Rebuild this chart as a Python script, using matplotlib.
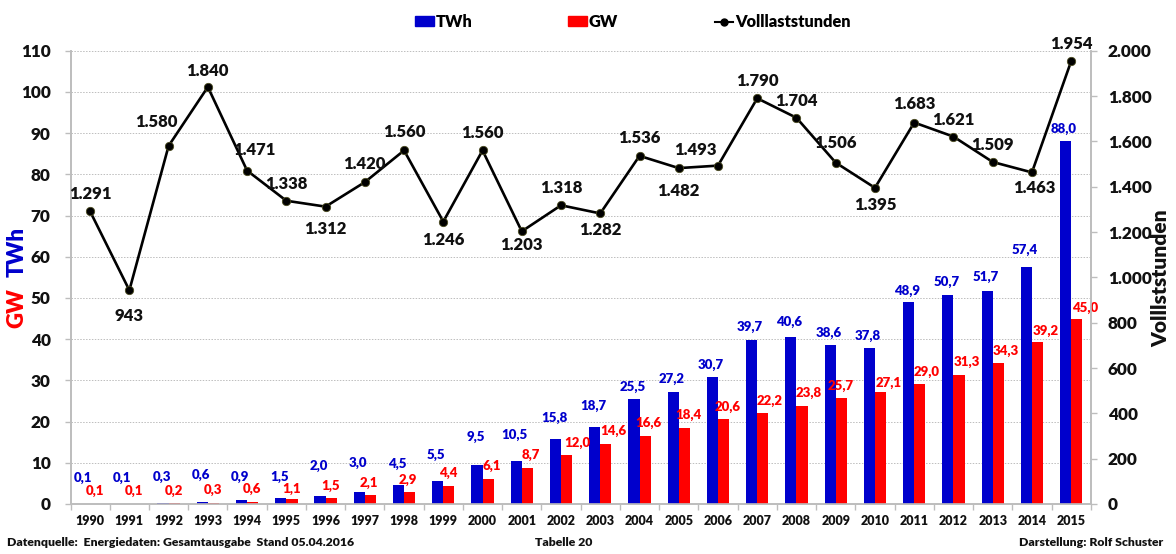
import matplotlib
matplotlib.use("Agg")
import matplotlib.pyplot as plt
import numpy as np
from matplotlib.patches import Patch
from matplotlib.lines import Line2D

plt.rcParams['font.family'] = ['Lato', 'DejaVu Sans']
plt.rcParams['font.weight'] = 800

years = list(range(1990, 2016))
twh = [0.1, 0.1, 0.3, 0.6, 0.9, 1.5, 2.0, 3.0, 4.5, 5.5, 9.5, 10.5, 15.8, 18.7, 25.5, 27.2,
       30.7, 39.7, 40.6, 38.6, 37.8, 48.9, 50.7, 51.7, 57.4, 88.0]
gw = [0.1, 0.1, 0.2, 0.3, 0.6, 1.1, 1.5, 2.1, 2.9, 4.4, 6.1, 8.7, 12.0, 14.6, 16.6, 18.4,
      20.6, 22.2, 23.8, 25.7, 27.1, 29.0, 31.3, 34.3, 39.2, 45.0]
hours = [1291, 943, 1580, 1840, 1471, 1338, 1312, 1420, 1560, 1246, 1560, 1203, 1318, 1282,
         1536, 1482, 1493, 1790, 1704, 1506, 1395, 1683, 1621, 1509, 1463, 1954]

# label offsets in pixels relative to the mark
twh_dy = [26, 26, 26, 27, 23, 21, 30, 29, 22, 26, 28, 26, 21, 21, 12, 13, 13, 13, 15, 12, 12, 12, 13, 14, 18, 12]
gw_dx = [5, 5, 5, 5, 5, 5, 5, 4, 4, 5, 9, 9, 16, 13, 9, 10, 10, 12, 12, 5, 14, 12, 13, 13, 14, 14]
gw_dy = [13, 13, 12, 13, 13, 11, 12, 12, 12, 13, 13, 13, 12, 13, 13, 13, 12, 12, 13, 12, 9, 13, 13, 12, 12, 11]
h_dx = [0, 0, -12, 0, 7, 0, 0, 0, 0, 0, 0, 0, 0, 0, 0, 0, -23, 0, 0, 0, 0, 0, 0, 0, 2, 0]
h_dy = [17, -26, 24, 16, 21, 17, -22, 18, 18, -18, 17, -14, 17, -17, 18, -23, 16, 17, 17, 20, -17, 19, 17, 17, -16, 17]

BLUE = '#0000CC'
RED = '#FF0000'
GRID = '#BDBDBD'
W, H = 1176, 554

fig = plt.figure(figsize=(W / 100, H / 100), dpi=100, facecolor='white')
L, R, T, B = 70.5, 1090.8, 50.7, 504
ax = fig.add_axes([L / W, 1 - B / H, (R - L) / W, (B - T) / H])
ax2 = ax.twinx()

x = np.arange(len(years))
bw = 0.285
ax.bar(x - bw / 2, twh, bw, color=BLUE, zorder=3)
ax.bar(x + bw / 2, gw, bw, color=RED, zorder=3)
ax.set_xlim(-0.5, len(years) - 0.5)
ax.set_ylim(0, 110)
ax.set_yticks(range(0, 111, 10))
ax.set_xticks(np.arange(-0.5, len(years), 1))
ax.set_xticklabels([])
ax.set_xticks(x, minor=True)
ax.set_xticklabels(years, minor=True, fontsize=9, color='#111111')
ax.tick_params(axis='x', which='major', length=4, color=GRID, width=1)
ax.tick_params(axis='x', which='minor', length=0, pad=8)
ax.tick_params(axis='y', length=4.3, color=GRID, width=1, labelsize=12.3, labelcolor='#111111', pad=10)
ax.grid(axis='y', color=GRID, linestyle=(0, (1.5, 1.5)), linewidth=0.7, zorder=0)
ax.set_axisbelow(True)

ax2.set_ylim(0, 2000)
ax2.plot(x, hours, color='black', lw=1.9, marker='o', ms=6, mfc='black', mec='#4a4a20', mew=0.6, zorder=5)
ax2.set_yticks(range(0, 2001, 200))
ax2.set_yticklabels([f"{v:,}".replace(',', '.') for v in range(0, 2001, 200)])
ax2.tick_params(axis='y', length=4.3, color=GRID, width=1, labelsize=12.3, labelcolor='#111111', pad=8)

for a in (ax, ax2):
    a.spines['top'].set_visible(False)
    for s in ('left', 'right', 'bottom'):
        a.spines[s].set_color(GRID)
        a.spines[s].set_linewidth(1.2)

for i in x:
    ax.annotate(f"{twh[i]:.1f}".replace('.', ','), (i - bw / 2, twh[i]), xytext=(-1.5, twh_dy[i]),
                textcoords='offset pixels', ha='center', va='center', color=BLUE, fontsize=9.5, zorder=6)
    ax.annotate(f"{gw[i]:.1f}".replace('.', ','), (i, gw[i]), xytext=(gw_dx[i], gw_dy[i]),
                textcoords='offset pixels', ha='center', va='center', color=RED, fontsize=9.5, zorder=6)
    lab = f"{hours[i]:,}".replace(',', '.')
    ax2.annotate(lab, (i, hours[i]), xytext=(h_dx[i], h_dy[i]),
                 textcoords='offset pixels', ha='center', va='center', color='#111111', fontsize=12, zorder=7)

fig.text(17 / W, 1 - 308 / H, 'GW', color=RED, rotation=90, ha='center', va='center', fontsize=16)
fig.text(17 / W, 1 - 252 / H, 'TWh', color=BLUE, rotation=90, ha='center', va='center', fontsize=16)
fig.text(1161 / W, 1 - 278 / H, 'Volllststunden', color='#111111', rotation=90, ha='center', va='center', fontsize=15)

fig.text(7 / W, 1 - 542 / H, 'Datenquelle:  Energiedaten: Gesamtausgabe  Stand 05.04.2016', fontsize=8.8,
         ha='left', va='center', color='#111111')
fig.text(564 / W, 1 - 542 / H, 'Tabelle 20', fontsize=8.8, ha='center', va='center', color='#111111')
fig.text(1163 / W, 1 - 542 / H, 'Darstellung: Rolf Schuster', fontsize=8.8, ha='right', va='center', color='#111111')

handles = [Patch(color=BLUE, label='TWh'), Patch(color=RED, label='GW'),
           Line2D([], [], color='black', lw=1.5, marker='o', ms=5, label='Volllaststunden')]
fig.legend(handles=handles, ncol=3, loc='center left', bbox_to_anchor=(415 / W, 1 - 22 / H), frameon=False,
           fontsize=11.8, handlelength=1.15, handleheight=0.55, handletextpad=0.1, columnspacing=5.87,
           borderpad=0, borderaxespad=0)

fig.savefig('out.png', dpi=100, facecolor='white')
